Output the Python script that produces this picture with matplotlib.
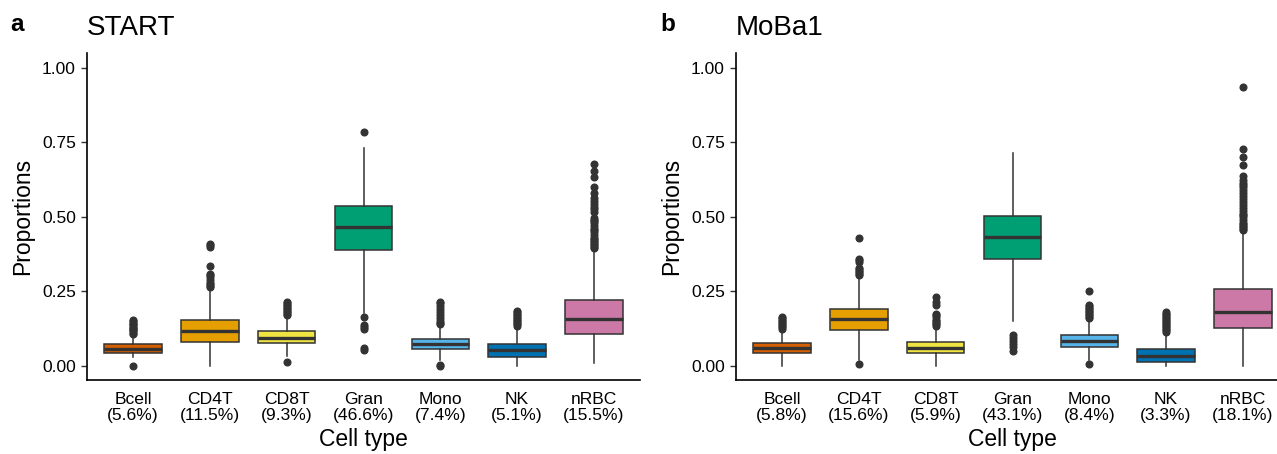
import matplotlib.pyplot as plt
import numpy as np

plt.rcParams['font.family'] = ['Liberation Sans', 'DejaVu Sans']

# Tipos celulares y colores (paleta Okabe-Ito)
cell_types = ['Bcell', 'CD4T', 'CD8T', 'Gran', 'Mono', 'NK', 'nRBC']
colores = ['#D55E00', '#E69F00', '#F0E442', '#009E73', '#56B4E9', '#0072B2', '#CC79A7']

# START
start_pct = [5.6, 11.5, 9.3, 46.6, 7.4, 5.1, 15.5]
start_q1 = [0.045, 0.082, 0.076, 0.389, 0.058, 0.031, 0.106]
start_med = [0.058, 0.116, 0.095, 0.467, 0.074, 0.054, 0.157]
start_q3 = [0.074, 0.154, 0.116, 0.537, 0.092, 0.074, 0.221]
start_lo = [0.030, 0.000, 0.035, 0.177, 0.020, 0.001, 0.011]
start_hi = [0.104, 0.260, 0.165, 0.730, 0.132, 0.127, 0.390]
start_fliers = [
    [0.0, 0.108, 0.112, 0.116, 0.12, 0.124, 0.128, 0.132, 0.136, 0.14, 0.145, 0.15, 0.154],
    [0.265, 0.27, 0.275, 0.28, 0.29, 0.30, 0.305, 0.31, 0.335, 0.40, 0.405, 0.41],
    [0.012, 0.17, 0.175, 0.18, 0.185, 0.19, 0.195, 0.20, 0.205, 0.21, 0.215],
    [0.055, 0.06, 0.123, 0.13, 0.138, 0.163, 0.784],
    [0.0, 0.003, 0.14, 0.145, 0.15, 0.16, 0.17, 0.18, 0.19, 0.20, 0.21, 0.215],
    [0.135, 0.14, 0.145, 0.15, 0.155, 0.16, 0.165, 0.17, 0.175, 0.18, 0.186],
    [0.395, 0.40, 0.405, 0.41, 0.415, 0.42, 0.425, 0.43, 0.44, 0.45, 0.455, 0.46, 0.47,
     0.48, 0.485, 0.49, 0.496, 0.518, 0.525, 0.535, 0.545, 0.555, 0.563, 0.579, 0.602,
     0.633, 0.655, 0.678],
]

# MoBa1
moba_pct = [5.8, 15.6, 5.9, 43.1, 8.4, 3.3, 18.1]
moba_q1 = [0.043, 0.120, 0.042, 0.358, 0.065, 0.015, 0.129]
moba_med = [0.059, 0.157, 0.059, 0.432, 0.085, 0.034, 0.182]
moba_q3 = [0.076, 0.191, 0.082, 0.503, 0.104, 0.056, 0.258]
moba_lo = [0.000, 0.020, 0.000, 0.152, 0.020, 0.000, 0.000]
moba_hi = [0.120, 0.300, 0.126, 0.714, 0.154, 0.110, 0.445]
moba_fliers = [
    [0.125, 0.13, 0.135, 0.14, 0.145, 0.15, 0.155, 0.16, 0.165],
    [0.007, 0.305, 0.31, 0.315, 0.32, 0.325, 0.33, 0.35, 0.355, 0.36, 0.43],
    [0.135, 0.14, 0.145, 0.15, 0.155, 0.165, 0.17, 0.175, 0.205, 0.215, 0.23],
    [0.051, 0.065, 0.075, 0.085, 0.095, 0.105],
    [0.007, 0.16, 0.165, 0.17, 0.175, 0.18, 0.185, 0.19, 0.195, 0.20, 0.205, 0.253],
    [0.115, 0.12, 0.125, 0.13, 0.135, 0.14, 0.145, 0.15, 0.155, 0.16, 0.165, 0.17, 0.175, 0.182],
    [0.456, 0.46, 0.465, 0.47, 0.475, 0.48, 0.49, 0.50, 0.505, 0.51, 0.52, 0.53, 0.54, 0.55,
     0.56, 0.57, 0.58, 0.59, 0.60, 0.607, 0.615, 0.625, 0.638, 0.673, 0.70, 0.727, 0.935],
]

fig = plt.figure(figsize=(12.77, 4.54), dpi=100)
ax1 = fig.add_axes([87 / 1277, 74 / 454, 553 / 1277, 327 / 454])
ax2 = fig.add_axes([736 / 1277, 74 / 454, 553 / 1277, 327 / 454])

gris = '#333333'


def dibujar_panel(ax, pct, q1, med, q3, lo, hi, fliers, titulo):
    stats = []
    for i in range(len(cell_types)):
        stats.append({'q1': q1[i], 'med': med[i], 'q3': q3[i],
                      'whislo': lo[i], 'whishi': hi[i], 'fliers': fliers[i]})
    pos = np.arange(1, len(cell_types) + 1)
    bp = ax.bxp(stats, positions=pos, widths=0.75, patch_artist=True, showcaps=False,
                boxprops=dict(edgecolor=gris, linewidth=1.1),
                whiskerprops=dict(color=gris, linewidth=1.1),
                medianprops=dict(color=gris, linewidth=2.4, solid_capstyle='butt'),
                flierprops=dict(marker='o', markerfacecolor=gris, markeredgecolor=gris,
                                markersize=4.8, linestyle='none'))
    for caja, c in zip(bp['boxes'], colores):
        caja.set_facecolor(c)

    ax.set_xlim(0.4, 7.6)
    ax.set_ylim(-0.047, 1.05)
    ax.set_yticks([0.0, 0.25, 0.5, 0.75, 1.0])
    ax.set_yticklabels(['0.00', '0.25', '0.50', '0.75', '1.00'])
    ax.set_xticks(pos)
    ax.set_xticklabels([f'{n}\n({p}%)' for n, p in zip(cell_types, pct)],
                       linespacing=1.12)
    ax.tick_params(axis='y', length=4, width=1, color=gris, labelsize=12.5,
                   labelcolor='black', pad=4)
    ax.tick_params(axis='x', length=0, labelsize=12.6, labelcolor='black', pad=8.5)
    for s in ['top', 'right']:
        ax.spines[s].set_visible(False)
    for s in ['left', 'bottom']:
        ax.spines[s].set_linewidth(1.2)
        ax.spines[s].set_color('black')
    ax.set_xlabel('Cell type', fontsize=16.5, labelpad=3.5)
    ax.set_ylabel('Proportions', fontsize=16.5, labelpad=6)
    ax.set_title(titulo, fontsize=20, loc='left', pad=13)


dibujar_panel(ax1, start_pct, start_q1, start_med, start_q3, start_lo, start_hi,
              start_fliers, 'START')
dibujar_panel(ax2, moba_pct, moba_q1, moba_med, moba_q3, moba_lo, moba_hi,
              moba_fliers, 'MoBa1')

fig.text(10 / 1277, 1 - 31 / 454, 'a', fontsize=17.5, fontweight='bold')
fig.text(660 / 1277, 1 - 31 / 454, 'b', fontsize=17.5, fontweight='bold')

fig.savefig('out.png', dpi=100)
